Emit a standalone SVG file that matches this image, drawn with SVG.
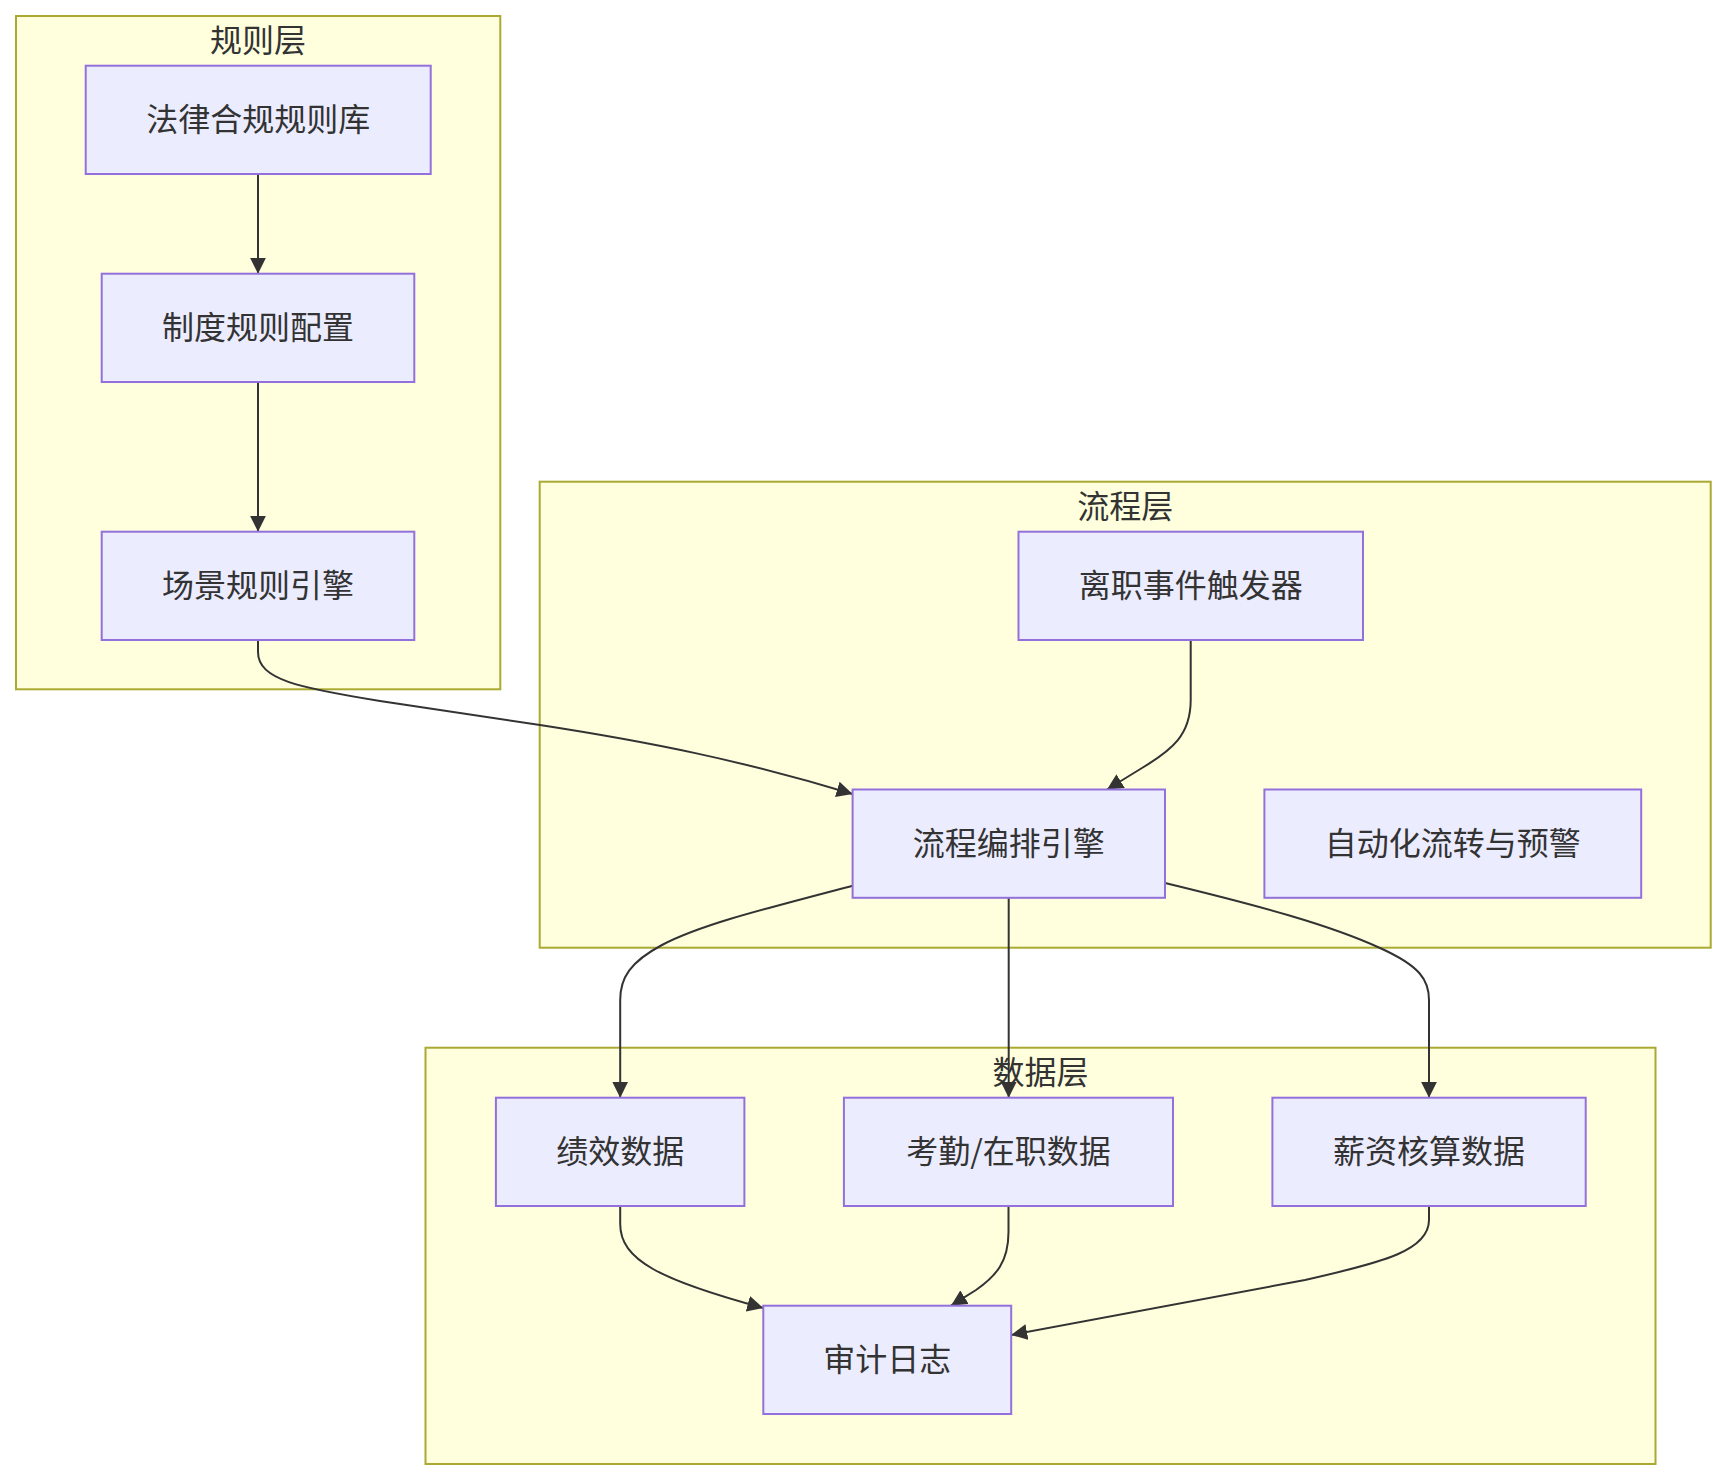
<svg xmlns="http://www.w3.org/2000/svg" width="1726" height="1480" viewBox="0 0 1726 1480">
<style>
.cluster rect{fill:#ffffde;stroke:#aaaa33;stroke-width:2}
.node rect{fill:#ECECFF;stroke:#9370DB;stroke-width:2}
text{font-family:"Noto Sans CJK SC","Noto Sans",sans-serif;font-size:32px;fill:#333333;text-anchor:middle}
.edges path{fill:none;stroke:#333333;stroke-width:2}
</style>
<defs>
<marker id="arrow" viewBox="0 0 10 10" refX="10" refY="5" markerUnits="userSpaceOnUse" markerWidth="16" markerHeight="16" orient="auto">
<path d="M0,0 L10,5 L0,10 z" fill="#333333"/>
</marker>
</defs>
<rect width="1726" height="1480" fill="#ffffff"/>
<g id="cluster-rules" class="cluster"><rect x="16" y="16" width="484.3" height="673.3"/><text x="258" y="52">规则层</text></g>
<g id="cluster-flow" class="cluster"><rect x="539.7" y="481.7" width="1171" height="466"/><text x="1125.2" y="518">流程层</text></g>
<g id="cluster-data" class="cluster"><rect x="425.5" y="1047.7" width="1230" height="416.3"/><text x="1040.5" y="1084">数据层</text></g>
<g id="edges" class="edges">
<path d="M258,174 V273.7" marker-end="url(#arrow)"/>
<path d="M258,382 V531.7" marker-end="url(#arrow)"/>
<path d="M258,640 V652 C258,680 300,688 380,701 L540,725 C650,742 740,760 852.6,794" marker-end="url(#arrow)"/>
<path d="M1190.7,640 V700 C1190.7,735 1172,750 1142,768 L1107,789.5" marker-end="url(#arrow)"/>
<path d="M852.6,885.7 C760,910 700,925 662,945 C630,962 620.2,978 620.2,1000 V1097.7" marker-end="url(#arrow)"/>
<path d="M1008.7,897.7 V1097.7" marker-end="url(#arrow)"/>
<path d="M1165,883 C1260,906 1330,925 1380,948 C1420,966 1429,980 1429,1000 V1097.7" marker-end="url(#arrow)"/>
<path d="M620.2,1206 V1224 C620.2,1260 660,1280 763.3,1308" marker-end="url(#arrow)"/>
<path d="M1008.5,1206 V1232 C1008.5,1262 996,1276 976,1290 L951,1305.7" marker-end="url(#arrow)"/>
<path d="M1429,1206 V1220 C1429,1250 1385,1262 1305,1280 L1011.2,1335" marker-end="url(#arrow)"/>
</g>
<g id="node-law" class="node"><rect x="85.7" y="65.7" width="345" height="108.3"/><text x="258.2" y="131">法律合规规则库</text></g>
<g id="node-policy" class="node"><rect x="101.7" y="273.7" width="312.6" height="108.3"/><text x="258" y="339">制度规则配置</text></g>
<g id="node-scene" class="node"><rect x="101.7" y="531.7" width="312.6" height="108.3"/><text x="258" y="597">场景规则引擎</text></g>
<g id="node-trigger" class="node"><rect x="1018.5" y="531.7" width="344.5" height="108.3"/><text x="1190.7" y="597">离职事件触发器</text></g>
<g id="node-orch" class="node"><rect x="852.6" y="789.5" width="312.4" height="108.3"/><text x="1008.8" y="855">流程编排引擎</text></g>
<g id="node-auto" class="node"><rect x="1264.4" y="789.5" width="376.8" height="108.3"/><text x="1452.8" y="855">自动化流转与预警</text></g>
<g id="node-perf" class="node"><rect x="495.9" y="1097.7" width="248.5" height="108.3"/><text x="620.2" y="1163">绩效数据</text></g>
<g id="node-attend" class="node"><rect x="843.9" y="1097.7" width="329.1" height="108.3"/><text x="1008.5" y="1163">考勤/在职数据</text></g>
<g id="node-salary" class="node"><rect x="1272.4" y="1097.7" width="313.3" height="108.3"/><text x="1429" y="1163">薪资核算数据</text></g>
<g id="node-audit" class="node"><rect x="763.3" y="1305.7" width="247.9" height="108.3"/><text x="887.3" y="1371">审计日志</text></g>
</svg>
